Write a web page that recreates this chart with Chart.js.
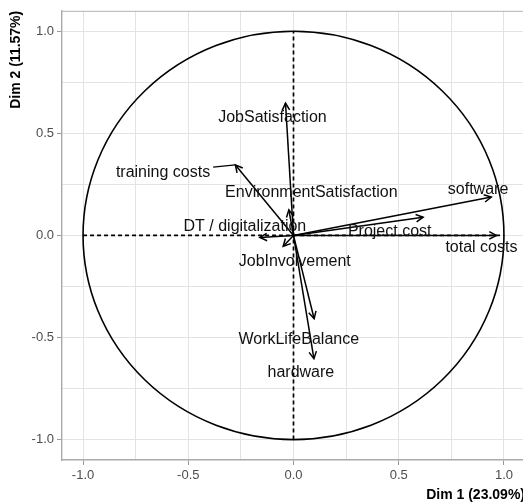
<!DOCTYPE html>
<html>
<head>
<meta charset="utf-8">
<title>PCA - Variables</title>
<script src="https://cdn.jsdelivr.net/npm/chart.js@4.4.1/dist/chart.umd.min.js"></script>
<style>
  html, body { margin: 0; padding: 0; background: #fff; overflow: hidden; }
  #wrap { width: 526px; height: 502px; }
</style>
</head>
<body>
<div id="wrap"><canvas id="pcaChart" width="526" height="502"></canvas></div>
<script>
// Variable coordinates on the first two dimensions
const variables = ['software', 'Project cost', 'total costs', 'JobSatisfaction', 'training costs',
    'EnvironmentSatisfaction', 'DT / digitalization', 'JobInvolvement', 'WorkLifeBalance', 'hardware'];
const dim1 = [0.94, 0.616, 0.964, -0.038, -0.276, -0.022, -0.16, -0.049, 0.098, 0.097];
const dim2 = [0.188, 0.089, 0.0, 0.648, 0.345, 0.125, -0.01, -0.053, -0.408, -0.604];

// Where the (repelled) labels sit, in axis units
const labelX = [0.877, 0.457, 0.893, -0.10, -0.62, 0.085, -0.231, 0.006, 0.025, 0.035];
const labelY = [0.222, 0.02, -0.061, 0.575, 0.31, 0.211, 0.043, -0.126, -0.51, -0.672];

const tickValues = [-1, -0.75, -0.5, -0.25, 0, 0.25, 0.5, 0.75, 1];
const axisMin = -1.1;
const axisMax = 1.1;
const xTitle = 'Dim 1 (23.09%)';
const yTitle = 'Dim 2 (11.57%)';

const FONT = '"Liberation Sans", Arial, Helvetica, sans-serif';
Chart.defaults.font.family = FONT;

const isMajor = v => Math.abs(v * 2 - Math.round(v * 2)) < 1e-9;

// One dataset per arrow shaft
const arrowSets = variables.map((name, i) => ({
    label: name,
    data: [{ x: 0, y: 0 }, { x: dim1[i], y: dim2[i] }],
    showLine: true,
    borderColor: '#000',
    borderWidth: 1.5,
    pointRadius: 0,
    fill: false
}));

const dashedSets = [
    { label: 'h0', data: [{ x: -1, y: 0 }, { x: 1, y: 0 }] },
    { label: 'v0', data: [{ x: 0, y: -1 }, { x: 0, y: 1 }] }
].map(d => Object.assign(d, {
    showLine: true,
    borderColor: '#000',
    borderWidth: 1.7,
    borderDash: [4, 3],
    pointRadius: 0,
    fill: false
}));

// circle, arrow heads, labels
const circlePlugin = {
    id: 'corCircle',
    beforeDatasetsDraw(chart) {
        const { ctx, chartArea, scales: { x, y } } = chart;
        ctx.save();
        ctx.strokeStyle = '#b3b3b3';
        ctx.lineWidth = 1;
        ctx.beginPath();
        ctx.moveTo(chartArea.left, chartArea.top + 0.5);
        ctx.lineTo(chartArea.right, chartArea.top + 0.5);
        ctx.stroke();

        const cx = x.getPixelForValue(0);
        const cy = y.getPixelForValue(0);
        const rx = x.getPixelForValue(1) - cx;
        const ry = cy - y.getPixelForValue(1);
        ctx.strokeStyle = '#000';
        ctx.lineWidth = 1.6;
        ctx.beginPath();
        ctx.ellipse(cx, cy, rx, ry, 0, 0, Math.PI * 2);
        ctx.stroke();
        ctx.restore();
    },
    afterDatasetsDraw(chart) {
        const { ctx, scales: { x, y } } = chart;
        const cx = x.getPixelForValue(0);
        const cy = y.getPixelForValue(0);
        ctx.save();
        ctx.strokeStyle = '#000';
        ctx.lineWidth = 1.5;
        const headLen = 8;
        const headAng = Math.PI / 6.5;
        variables.forEach((name, i) => {
            const px = x.getPixelForValue(dim1[i]);
            const py = y.getPixelForValue(dim2[i]);
            const a = Math.atan2(py - cy, px - cx);
            ctx.beginPath();
            ctx.moveTo(px - headLen * Math.cos(a - headAng), py - headLen * Math.sin(a - headAng));
            ctx.lineTo(px, py);
            ctx.lineTo(px - headLen * Math.cos(a + headAng), py - headLen * Math.sin(a + headAng));
            ctx.stroke();
        });

        ctx.font = '16px ' + FONT;
        ctx.textAlign = 'center';
        ctx.textBaseline = 'middle';
        ctx.fillStyle = '#111';
        variables.forEach((name, i) => {
            const lx = x.getPixelForValue(labelX[i]);
            const ly = y.getPixelForValue(labelY[i]);
            const px = x.getPixelForValue(dim1[i]);
            const py = y.getPixelForValue(dim2[i]);
            const hw = ctx.measureText(name).width / 2 + 3;
            const hh = 9;
            // segment from label box edge to the point when the label is pushed far away
            const dx = px - lx;
            const dy = py - ly;
            const t = Math.min(dx ? hw / Math.abs(dx) : Infinity, dy ? hh / Math.abs(dy) : Infinity);
            if (t < 1) {
                const ex = lx + dx * t;
                const ey = ly + dy * t;
                if (Math.hypot(px - ex, py - ey) > 18) {
                    ctx.lineWidth = 1.3;
                    ctx.beginPath();
                    ctx.moveTo(ex, ey);
                    ctx.lineTo(px, py);
                    ctx.stroke();
                }
            }
            ctx.fillText(name, lx, ly);
        });
        ctx.restore();
    }
};

const axisOpts = (titleText, fitFn) => ({
    type: 'linear',
    min: axisMin,
    max: axisMax,
    afterBuildTicks: scale => { scale.ticks = tickValues.map(v => ({ value: v })); },
    afterFit: fitFn,
    ticks: {
        color: '#4d4d4d',
        font: { size: 13 },
        padding: 3,
        autoSkip: false,
        maxRotation: 0,
        callback: v => isMajor(v) ? v.toFixed(1) : ''
    },
    grid: {
        color: '#e3e3e3',
        lineWidth: 1,
        tickLength: 5,
        tickColor: ctx => (ctx.tick && isMajor(ctx.tick.value)) ? '#9a9a9a' : 'rgba(0,0,0,0)'
    },
    border: { display: true, color: '#aaaaaa', width: 1.4 },
    title: {
        display: true,
        text: titleText,
        align: 'end',
        color: '#000',
        font: { size: 14, weight: 'bold', lineHeight: 1 },
        padding: { top: 9, bottom: 0 }
    }
});

const ctx = document.getElementById('pcaChart').getContext('2d');
new Chart(ctx, {
    type: 'scatter',
    data: { datasets: dashedSets.concat(arrowSets) },
    options: {
        responsive: false,
        animation: false,
        events: [],
        layout: { padding: { top: 10, right: 1, left: 0, bottom: 0 } },
        plugins: {
            legend: { display: false },
            tooltip: { enabled: false }
        },
        scales: {
            x: axisOpts(xTitle, scale => { scale.height = 42; }),
            y: axisOpts(yTitle, scale => { scale.width = 62; })
        }
    },
    plugins: [circlePlugin]
});
</script>
</body>
</html>
